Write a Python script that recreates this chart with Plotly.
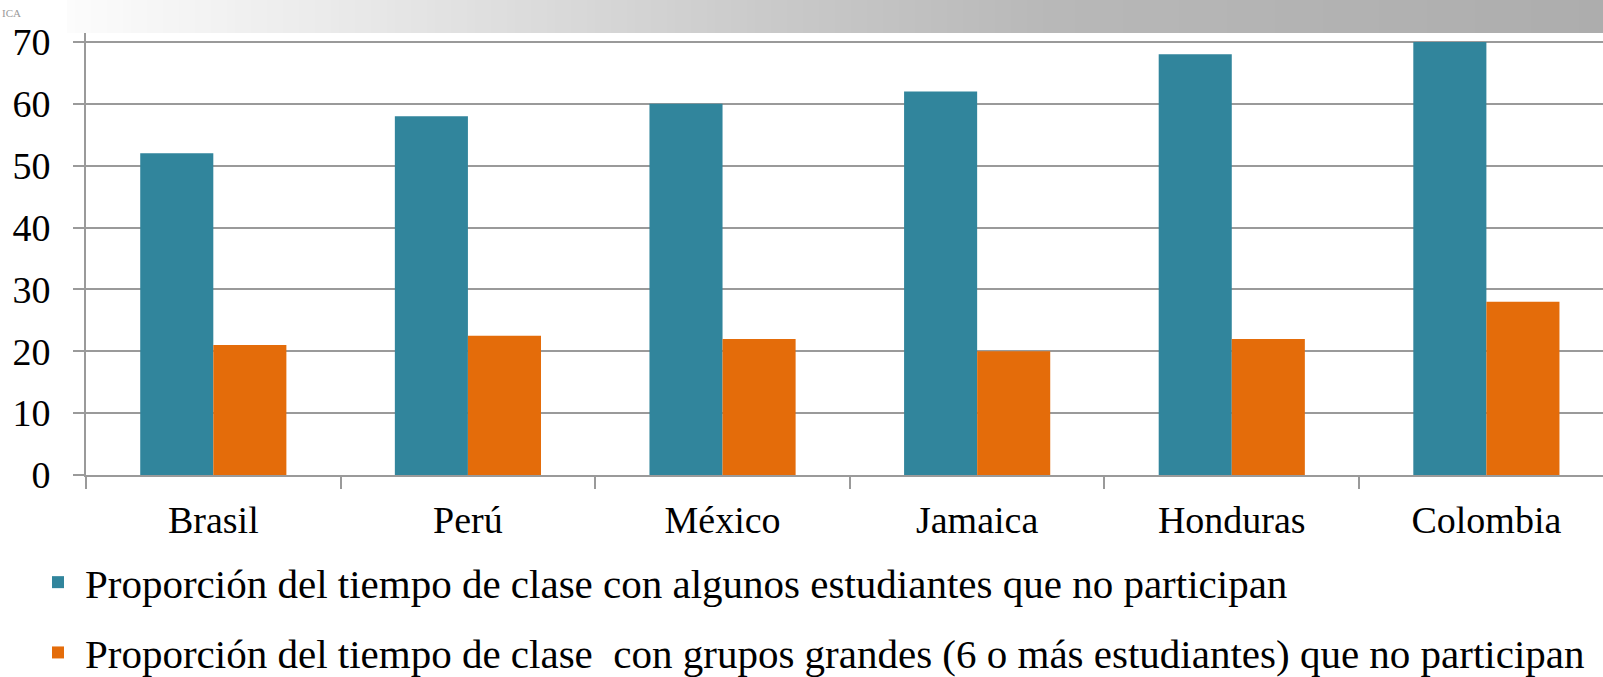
import plotly.graph_objects as go

categories = ["Brasil", "Perú", "México", "Jamaica", "Honduras", "Colombia"]
serie_algunos = [52, 58, 60, 62, 68, 70]
serie_grupos = [21, 22.5, 22, 20, 22, 28]
nombre_algunos = "Proporción del tiempo de clase con algunos estudiantes que no participan"
nombre_grupos = "Proporción del tiempo de clase\u00a0 con grupos grandes (6 o más estudiantes) que no participan"
y_ticks = [0, 10, 20, 30, 40, 50, 60, 70]

W, H = 1603, 677
FONT = "Liberation Serif, Times New Roman, serif"
TEAL = "#31859C"
ORANGE = "#E46C0A"
GRID = "#9a9a9a"
L, R, T, B = 86, 0, 11, 202
PW, PH = W - L - R, H - T - B

fig = go.Figure()
fig.add_trace(go.Bar(x=categories, y=serie_algunos, name=nombre_algunos,
                     marker=dict(color=TEAL, line=dict(width=0)), legendgroup="a"))
fig.add_trace(go.Bar(x=categories, y=serie_grupos, name=nombre_grupos,
                     marker=dict(color=ORANGE, line=dict(width=0)), legendgroup="b"))

# header gradient band (decorative slide element), page px 0..33 vertically
stops = [(67, 252), (350, 233), (750, 203), (1050, 184), (1350, 178), (1603, 173)]
def grey_at(px):
    for (x0, c0), (x1, c1) in zip(stops[:-1], stops[1:]):
        if x0 <= px <= x1:
            return c0 + (c1 - c0) * (px - x0) / (x1 - x0)
    return stops[-1][1]
shapes = []
step = 8
px = 67
while px < W:
    g = int(round(grey_at(px + step / 2)))
    shapes.append(dict(type="rect", xref="paper", yref="paper",
                       x0=(px - L) / PW, x1=(px + step + 0.6 - L) / PW,
                       y0=(H - B - 33) / PH, y1=(H - B) / PH,
                       fillcolor=f"rgb({g},{g},{g})", line=dict(width=0), layer="above"))
    px += step

fig.update_layout(
    width=W, height=H,
    margin=dict(l=L, r=R, t=T, b=B, autoexpand=False),
    paper_bgcolor="white", plot_bgcolor="white",
    barmode="group", bargap=0.426, bargroupgap=0,
    font=dict(family=FONT, color="black", size=38),
    shapes=shapes,
    showlegend=True,
    legend=dict(orientation="v", xref="container", yref="container",
                x=31 / W, y=1 - 549 / H, xanchor="left", yanchor="top",
                font=dict(size=41, family=FONT), tracegroupgap=14, itemwidth=44,
                bgcolor="rgba(0,0,0,0)"),
    annotations=[dict(text="ICA", xref="paper", yref="paper", x=-L / PW, y=(H - B - 13) / PH,
                      xanchor="left", yanchor="middle", showarrow=False,
                      font=dict(size=11, color="#9a9a9a", family=FONT))],
)
fig.update_xaxes(type="category", range=[-0.5, 5.458], tickson="boundaries",
                 ticks="outside", ticklen=12, tickwidth=2, tickcolor=GRID,
                 showline=True, linecolor=GRID, linewidth=2, showgrid=False,
                 tickfont=dict(size=38), ticklabelstandoff=10, tickangle=0)
fig.update_yaxes(range=[0, 75], tickvals=y_ticks, ticks="outside", ticklen=11,
                 tickwidth=2, tickcolor=GRID, showline=True, linecolor=GRID, linewidth=2,
                 showgrid=True, gridcolor=GRID, gridwidth=2, zeroline=False,
                 tickfont=dict(size=38), ticklabelstandoff=15)

fig.write_html("out.html", config={"displayModeBar": False},
               post_script="document.body.style.margin='0';")
